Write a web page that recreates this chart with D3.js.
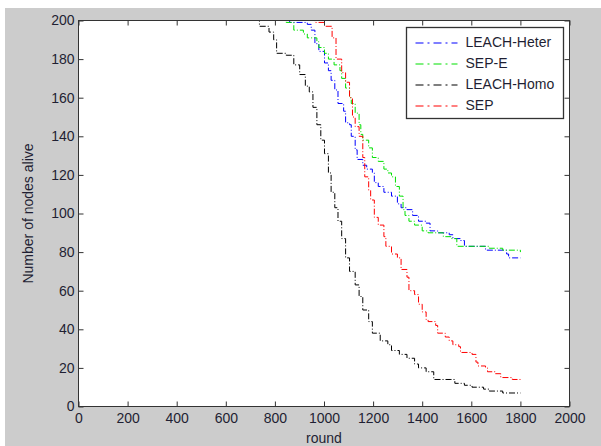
<!DOCTYPE html>
<html>
<head>
<meta charset="utf-8">
<script src="https://cdn.jsdelivr.net/npm/d3@7"></script>
<style>
  body { margin: 0; background: #fff; }
  svg { display: block; }
  text { font-family: Arial, "Liberation Sans", sans-serif; fill: #1f1f33; }
</style>
</head>
<body>
<div id="chart"></div>
<script>
// rounds / alive nodes
const leachHeterX = [0, 860, 932, 948, 963, 979, 1002, 1018, 1029, 1044, 1057, 1080, 1088, 1104, 1111, 1127, 1135, 1158, 1174, 1197, 1205, 1221, 1244, 1275, 1299, 1314, 1338, 1361, 1385, 1416, 1432, 1463, 1510, 1525, 1556, 1572, 1619, 1658, 1744, 1752, 1800];
const leachHeterY = [200, 199, 198, 195, 188, 184, 178, 174, 169, 164, 157, 153, 147, 146, 140, 133, 128, 125, 123, 121, 116, 114, 111, 109, 105, 103, 102, 99, 96, 95, 91, 90, 89, 87, 86, 83, 83, 81, 79, 77, 77];

const sepEX = [0, 846, 877, 916, 932, 971, 979, 1002, 1018, 1041, 1065, 1072, 1088, 1104, 1111, 1127, 1143, 1150, 1158, 1182, 1197, 1221, 1244, 1260, 1275, 1291, 1307, 1322, 1330, 1346, 1369, 1400, 1424, 1463, 1486, 1517, 1541, 1603, 1673, 1728, 1800];
const sepEY = [200, 199, 195, 193, 191, 189, 186, 183, 180, 177, 174, 170, 165, 160, 157, 152, 146, 141, 138, 134, 129, 127, 123, 121, 119, 114, 109, 102, 99, 96, 94, 91, 90, 90, 88, 87, 83, 83, 82, 81, 80];

const leachHomoX = [0, 726, 737, 776, 795, 807, 846, 877, 901, 924, 940, 955, 971, 987, 1002, 1018, 1029, 1044, 1057, 1072, 1088, 1104, 1127, 1143, 1158, 1182, 1197, 1229, 1260, 1275, 1307, 1338, 1369, 1385, 1416, 1447, 1517, 1533, 1572, 1603, 1650, 1673, 1728, 1800];
const leachHomoY = [200, 200, 197, 194, 190, 183, 182, 177, 172, 166, 163, 155, 146, 138, 131, 121, 111, 103, 96, 87, 77, 70, 63, 57, 50, 44, 38, 34, 32, 29, 27, 25, 22, 20, 18, 14, 14, 12, 11, 10, 9, 8, 7, 7];

const sepX = [0, 963, 1002, 1033, 1049, 1072, 1088, 1104, 1116, 1127, 1143, 1158, 1166, 1182, 1190, 1205, 1221, 1244, 1252, 1275, 1299, 1314, 1338, 1346, 1369, 1385, 1400, 1416, 1424, 1455, 1463, 1494, 1510, 1525, 1549, 1556, 1603, 1619, 1627, 1658, 1666, 1697, 1720, 1767, 1800];
const sepY = [200, 199, 197, 191, 180, 173, 168, 160, 150, 145, 140, 129, 119, 112, 107, 98, 94, 88, 83, 79, 77, 71, 67, 60, 58, 53, 49, 45, 44, 42, 38, 36, 34, 32, 31, 28, 27, 23, 21, 20, 18, 17, 15, 14, 13];

const seriesNames = ['LEACH-Heter', 'SEP-E', 'LEACH-Homo', 'SEP'];
const seriesColors = ['#0000ff', '#00e000', '#000000', '#ff0000'];
const xTicks = [0, 200, 400, 600, 800, 1000, 1200, 1400, 1600, 1800, 2000];
const yTicks = [0, 20, 40, 60, 80, 100, 120, 140, 160, 180, 200];

const zip = (xs, ys) => xs.map((x, i) => ({ x, y: ys[i] }));
const series = [
  zip(leachHeterX, leachHeterY),
  zip(sepEX, sepEY),
  zip(leachHomoX, leachHomoY),
  zip(sepX, sepY),
];

const width = 601, height = 446;
const margin = { left: 78, right: 32, top: 20, bottom: 40 };
const innerW = width - margin.left - margin.right;
const innerH = height - margin.top - margin.bottom;

const svg = d3.select('#chart').append('svg').attr('width', width).attr('height', height);

svg.append('rect').attr('x', 5).attr('y', 8).attr('width', width - 5).attr('height', height - 8).attr('fill', '#cccccc');

// half pixel offset keeps 1px strokes crisp
const g = svg.append('g').attr('transform', `translate(${margin.left + 0.5},${margin.top + 0.5})`);

g.append('rect').attr('width', innerW).attr('height', innerH).attr('fill', '#fff');

const x = d3.scaleLinear().domain([0, 2000]).range([0, innerW]);
const y = d3.scaleLinear().domain([0, 200]).range([innerH, 0]);

const line = d3.line().x(d => x(d.x)).y(d => y(d.y)).curve(d3.curveStepAfter);

g.selectAll('path.series')
  .data(series)
  .join('path')
  .attr('class', 'series')
  .attr('d', line)
  .attr('fill', 'none')
  .attr('stroke', (d, i) => seriesColors[i])
  .attr('stroke-width', 1)
  .attr('stroke-dasharray', '6,2,1,2');

// axes, ticks inside on all four sides (matlab box)
const tickLen = 5;
const styleAxis = sel => {
  sel.select('.domain').remove();
  sel.selectAll('line').attr('stroke', '#333');
  sel.selectAll('text').style('font-size', '14px').attr('fill', '#1f1f33');
};

g.append('g').attr('transform', `translate(0,${innerH})`)
  .call(d3.axisBottom(x).tickValues(xTicks).tickSize(-tickLen).tickPadding(7).tickFormat(d3.format('d')))
  .call(styleAxis);
g.append('g')
  .call(d3.axisTop(x).tickValues(xTicks).tickSize(-tickLen).tickFormat(''))
  .call(styleAxis);
g.append('g')
  .call(d3.axisLeft(y).tickValues(yTicks).tickSize(-tickLen).tickPadding(4).tickFormat(d3.format('d')))
  .call(styleAxis);
g.append('g').attr('transform', `translate(${innerW},0)`)
  .call(d3.axisRight(y).tickValues(yTicks).tickSize(-tickLen).tickFormat(''))
  .call(styleAxis);

g.append('rect').attr('width', innerW).attr('height', innerH)
  .attr('fill', 'none').attr('stroke', '#333').attr('stroke-width', 1);

g.append('text').attr('x', innerW / 2).attr('y', innerH + 36)
  .attr('text-anchor', 'middle').style('font-size', '14px').text('round');

g.append('text').attr('transform', `translate(${-46},${innerH / 2}) rotate(-90)`)
  .attr('text-anchor', 'middle').style('font-size', '14px').text('Number of nodes alive');

// legend
const legend = g.append('g').attr('transform', `translate(${406 - margin.left},${27 - margin.top})`);
legend.append('rect').attr('width', 157).attr('height', 91)
  .attr('fill', '#fff').attr('stroke', '#333').attr('stroke-width', 1.3);
const items = legend.selectAll('g.item').data(seriesNames).join('g')
  .attr('class', 'item')
  .attr('transform', (d, i) => `translate(0,${15 + i * 21})`);
items.append('line').attr('x1', 9).attr('x2', 51).attr('y1', 0.5).attr('y2', 0.5)
  .attr('stroke', (d, i) => seriesColors[i]).attr('stroke-width', 1.2)
  .attr('stroke-dasharray', '8,4,2,4');
items.append('text').attr('x', 59).attr('dy', '0.35em').style('font-size', '14px').text(d => d);
</script>
</body>
</html>
